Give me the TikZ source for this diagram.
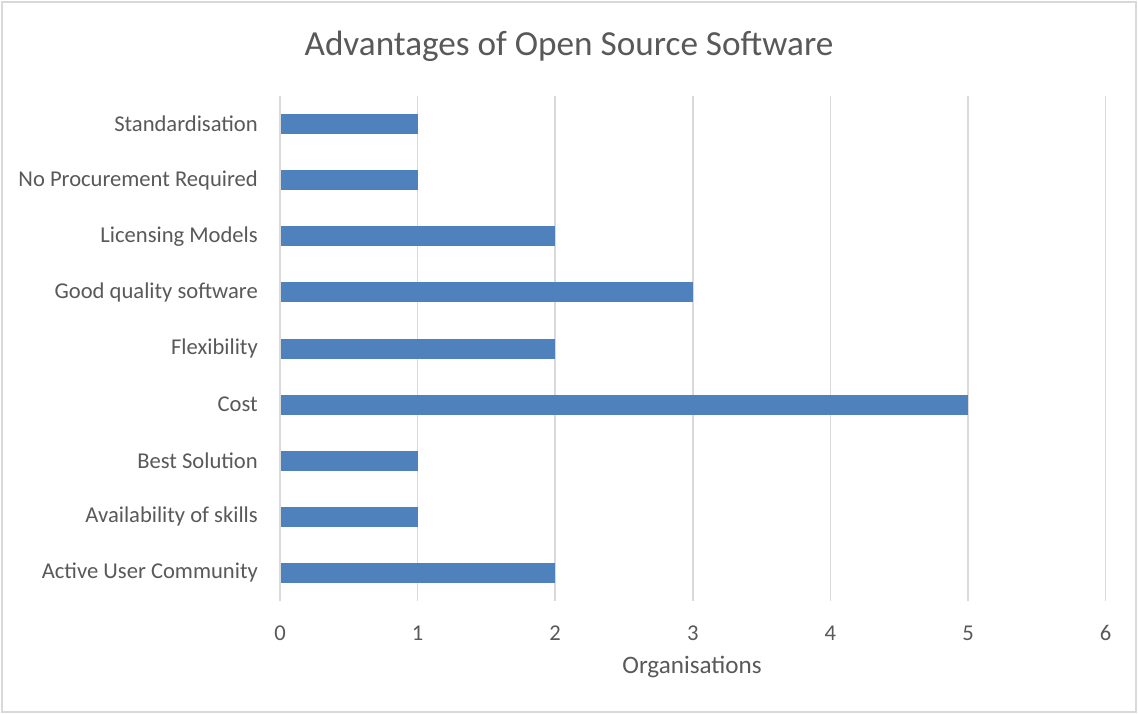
\documentclass[tikz,border=0pt]{standalone}
\usepackage{fontspec}
\setmainfont{Carlito}
\definecolor{txtgray}{HTML}{595959}
\definecolor{gridgray}{HTML}{D9D9D9}
\definecolor{barblue}{HTML}{4F81BD}
\begin{document}
\begin{tikzpicture}[x=1pt,y=-1pt,
  gridline/.style={draw=gridgray,line width=1.5pt},
  hbar/.style={fill=barblue,draw=none},
  catlabel/.style={anchor=east,inner sep=0pt,text=txtgray,font=\fontsize{22.6}{22.6}\selectfont},
  ticklabel/.style={anchor=center,inner sep=0pt,text=txtgray,font=\fontsize{22.6}{22.6}\selectfont},
  axistitle/.style={anchor=center,inner sep=0pt,text=txtgray,font=\fontsize{25.1}{25.1}\selectfont},
  charttitle/.style={anchor=center,inner sep=0pt,text=txtgray,font=\fontsize{35.2}{35.2}\selectfont}]
  % frame of the chart area
  \fill[white] (0,0) rectangle (1138,714);
  \useasboundingbox (0,0) rectangle (1138,714);
  \draw[draw=gridgray,line width=1.5pt] (2,2) rectangle (1136,712);

  % title
  \node[charttitle] (title) at (569,46) {Advantages of Open Source Software};

  % vertical gridlines and tick labels
  \foreach \v in {0,...,6} {
    \pgfmathsetmacro{\gx}{280+137.6*\v}
    \coordinate (gt\v) at (\gx,96);
    \coordinate (gb\v) at (\gx,601);
    \draw[gridline] (gt\v) -- (gb\v);
    \node[ticklabel] (tick\v) at (\gx,633) {\v};
  }

  % bars, drawn from the top category down
  \foreach \i/\val/\name in {0/1/Standardisation,
                             1/1/No Procurement Required,
                             2/2/Licensing Models,
                             3/3/Good quality software,
                             4/2/Flexibility,
                             5/5/Cost,
                             6/1/Best Solution,
                             7/1/Availability of skills,
                             8/2/Active User Community} {
    \pgfmathsetmacro{\cy}{124+56.125*\i}
    \pgfmathsetmacro{\ex}{280+137.6*\val}
    \fill[hbar] (281,\cy-10) rectangle (\ex,\cy+10);
    \node[catlabel] (cat\i) at (258,\cy) {\name};
  }

  % axis title
  \node[axistitle] (xtitle) at (692,667) {Organisations};
\end{tikzpicture}
\end{document}
